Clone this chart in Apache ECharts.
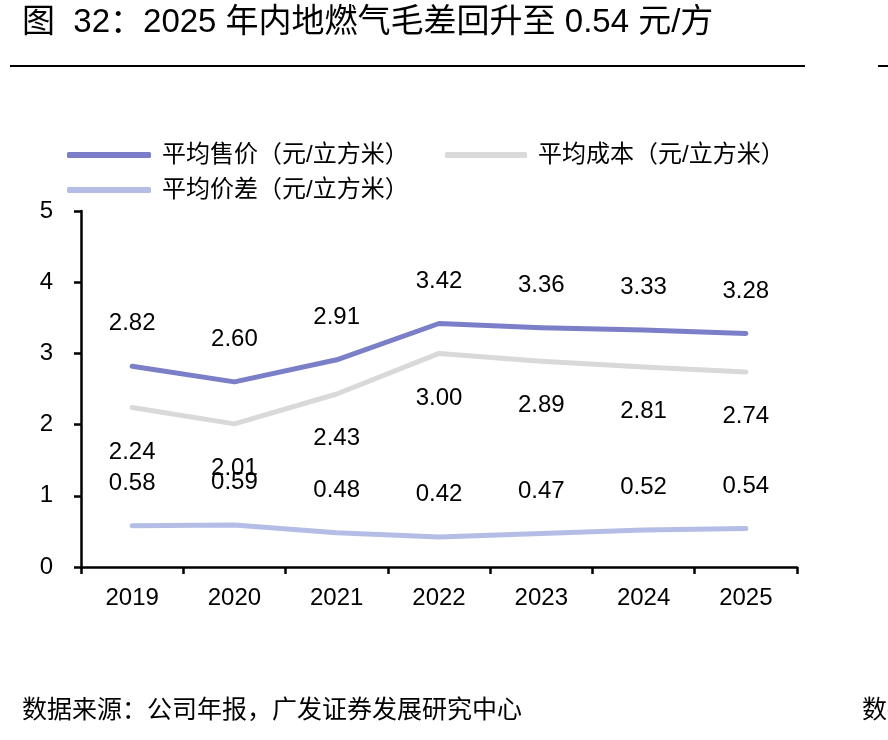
<!DOCTYPE html>
<html>
<head>
<meta charset="utf-8">
<script src="https://cdn.jsdelivr.net/npm/echarts@6/dist/echarts.min.js"></script>
<style>
  html, body { margin: 0; padding: 0; background: #fff; }
  #main { width: 888px; height: 740px; }
</style>
</head>
<body>
<div id="main"></div>
<script>
// 数据
var years = ['2019', '2020', '2021', '2022', '2023', '2024', '2025'];
var priceData = [2.82, 2.60, 2.91, 3.42, 3.36, 3.33, 3.28];
var costData = [2.24, 2.01, 2.43, 3.00, 2.89, 2.81, 2.74];
var spreadData = [0.58, 0.59, 0.48, 0.42, 0.47, 0.52, 0.54];
var yTicks = [0, 1, 2, 3, 4, 5];

var seriesNames = ['平均售价（元/立方米）', '平均成本（元/立方米）', '平均价差（元/立方米）'];
var colors = ['#7b7fc8', '#d9d9d9', '#b4bde6'];
var fontFam = '"Liberation Sans", "Noto Sans CJK SC", sans-serif';

var myChart = echarts.init(document.getElementById('main'));

function makeLabel(pos) {
    return {
        show: true,
        position: pos,
        distance: pos == 'top' ? 30 : 32,
        color: '#000',
        fontSize: 24,
        fontFamily: fontFam,
        formatter: function (p) { return p.value.toFixed(2); }
    };
}

function makeSeries(i, data, pos) {
    return {
        name: seriesNames[i],
        type: 'line',
        data: data,
        symbol: 'circle',
        symbolSize: 1,
        showSymbol: true,
        lineStyle: { color: colors[i], width: 5, cap: 'round', join: 'round' },
        itemStyle: { color: colors[i] },
        label: makeLabel(pos),
        emphasis: { disabled: true },
        z: 3 - i
    };
}

function makeLegend(name, left, top, w) {
    return {
        data: [name],
        left: left, top: top,
        icon: 'roundRect',
        itemWidth: w, itemHeight: 6,
        textStyle: { color: '#000', fontSize: 24, fontFamily: fontFam, padding: [0, 0, 0, 6] },
        selectedMode: false
    };
}

var option = {
    animation: false,
    color: colors,
    graphic: [
        {
            type: 'text', left: 22, top: 6,
            style: { text: '图  32：2025 年内地燃气毛差回升至 0.54 元/方', fontSize: 33, fill: '#000', fontFamily: fontFam }
        },
        { type: 'rect', shape: { x: 10, y: 65, width: 795, height: 2 }, style: { fill: '#000' } },
        { type: 'rect', shape: { x: 878, y: 65, width: 10, height: 2 }, style: { fill: '#000' } },
        {
            type: 'text', left: 22, top: 699,
            style: { text: '数据来源：公司年报，广发证券发展研究中心', fontSize: 25, fill: '#000', fontFamily: fontFam }
        },
        {
            type: 'text', left: 862, top: 699,
            style: { text: '数据', fontSize: 25, fill: '#000', fontFamily: fontFam }
        }
    ],
    legend: [
        makeLegend(seriesNames[0], 62, 138, 84),
        makeLegend(seriesNames[1], 440, 138, 82),
        makeLegend(seriesNames[2], 62, 173, 84)
    ],
    grid: { left: 81, right: 91, top: 211, bottom: 173, containLabel: false },
    xAxis: {
        type: 'category',
        data: years,
        boundaryGap: true,
        axisLine: { lineStyle: { color: '#000', width: 2.5 } },
        axisTick: { show: true, inside: false, length: 7, lineStyle: { color: '#000', width: 2.5 } },
        axisLabel: { color: '#000', fontSize: 24, fontFamily: fontFam, margin: 19 },
        splitLine: { show: false }
    },
    yAxis: {
        type: 'value',
        min: yTicks[0],
        max: yTicks[yTicks.length - 1],
        interval: 1,
        axisLine: { show: true, lineStyle: { color: '#000', width: 2.5 } },
        axisTick: { show: true, inside: false, length: 7, lineStyle: { color: '#000', width: 2.5 } },
        axisLabel: { color: '#000', fontSize: 24, fontFamily: fontFam, margin: 28 },
        splitLine: { show: false }
    },
    series: [
        makeSeries(0, priceData, 'top'),
        makeSeries(1, costData, 'bottom'),
        makeSeries(2, spreadData, 'top')
    ]
};

myChart.setOption(option);
</script>
</body>
</html>
